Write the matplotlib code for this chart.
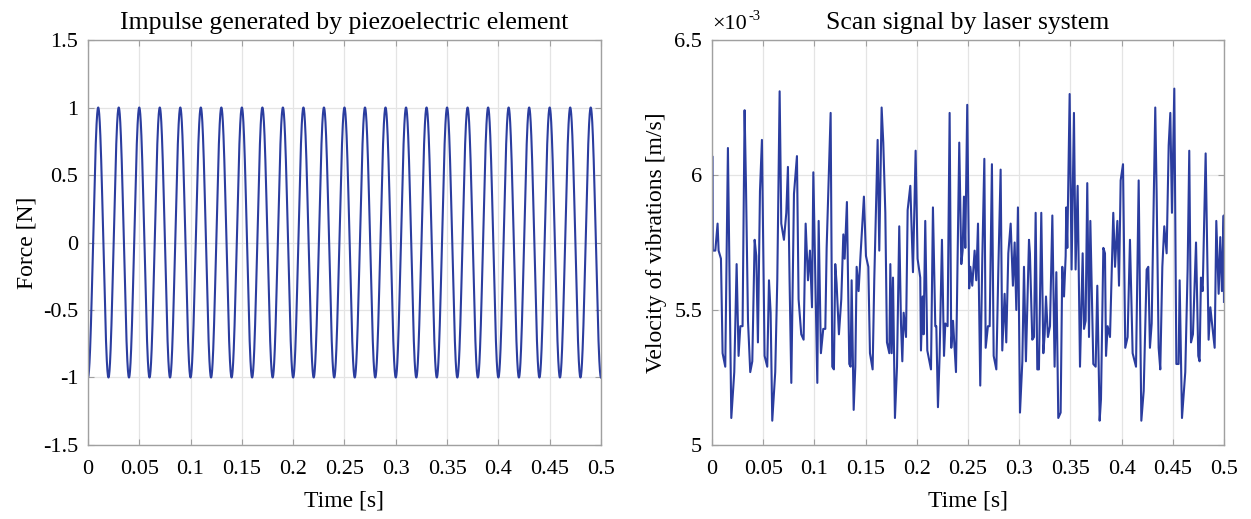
import numpy as np
import matplotlib
matplotlib.use('Agg')
import matplotlib.pyplot as plt

plt.rcParams['font.family'] = ['Liberation Serif', 'DejaVu Serif']
plt.rcParams['axes.unicode_minus'] = False

# left panel: excitation signal (50 Hz, amplitude 1 N, starts at -1)
force_freq = 50.0
force_amp = 1.0
force_t_end = 0.5

# right panel: scan signal (time in s, velocity in 1e-3 m/s), peaks/troughs
scan_t = [0.0, 0.0003, 0.0009, 0.0033, 0.0055, 0.0065, 0.0088, 0.0104, 0.0130, 0.0156,
          0.0176, 0.0189, 0.0218, 0.0241, 0.0260, 0.0277, 0.0299, 0.0319, 0.0332, 0.0352,
          0.0374, 0.0394, 0.0417, 0.0433, 0.0449, 0.0469, 0.0488, 0.0514, 0.0540, 0.0557,
          0.0573, 0.0589, 0.0618, 0.0638, 0.0661, 0.0677, 0.0703, 0.0726, 0.0742, 0.0758,
          0.0775, 0.0801, 0.0830, 0.0846, 0.0872, 0.0895, 0.0915, 0.0938, 0.0957, 0.0977,
          0.0990, 0.1029, 0.1042, 0.1064, 0.1087, 0.1107, 0.1120, 0.1136, 0.1159, 0.1175,
          0.1191, 0.1204, 0.1217, 0.1240, 0.1263, 0.1283, 0.1296, 0.1318, 0.1341, 0.1354,
          0.1364, 0.1384, 0.1400, 0.1413, 0.1432, 0.1452, 0.1484, 0.1504, 0.1527, 0.1543,
          0.1569, 0.1585, 0.1618, 0.1634, 0.1657, 0.1673, 0.1693, 0.1709, 0.1732, 0.1742,
          0.1755, 0.1768, 0.1787, 0.1807, 0.1829, 0.1846, 0.1859, 0.1872, 0.1895, 0.1911,
          0.1937, 0.1963, 0.1989, 0.2008, 0.2034, 0.2041, 0.2057, 0.2067, 0.2083, 0.2103,
          0.2139, 0.2158, 0.2181, 0.2191, 0.2207, 0.2223, 0.2246, 0.2266, 0.2279, 0.2301,
          0.2321, 0.2337, 0.2354, 0.2383, 0.2415, 0.2435, 0.2448, 0.2461, 0.2474, 0.2493,
          0.2512, 0.2523, 0.2542, 0.2565, 0.2581, 0.2598, 0.2620, 0.2640, 0.2660, 0.2673,
          0.2695, 0.2712, 0.2734, 0.2751, 0.2777, 0.2796, 0.2819, 0.2835, 0.2858, 0.2874,
          0.2894, 0.2917, 0.2939, 0.2956, 0.2972, 0.2988, 0.3008, 0.3031, 0.3047, 0.3066,
          0.3096, 0.3105, 0.3128, 0.3145, 0.3161, 0.3177, 0.3193, 0.3216, 0.3236, 0.3249,
          0.3262, 0.3281, 0.3301, 0.3324, 0.3346, 0.3363, 0.3382, 0.3405, 0.3421, 0.3438,
          0.3454, 0.3460, 0.3470, 0.3493, 0.3509, 0.3512, 0.3535, 0.3551, 0.3571, 0.3594,
          0.3620, 0.3633, 0.3649, 0.3665, 0.3682, 0.3695, 0.3724, 0.3747, 0.3763, 0.3786,
          0.3799, 0.3822, 0.3838, 0.3848, 0.3864, 0.3887, 0.3919, 0.3936, 0.3959, 0.3975,
          0.3991, 0.4014, 0.4036, 0.4059, 0.4082, 0.4108, 0.4141, 0.4167, 0.4193, 0.4216,
          0.4245, 0.4261, 0.4277, 0.4294, 0.4329, 0.4342, 0.4362, 0.4378, 0.4398, 0.4417,
          0.4440, 0.4460, 0.4476, 0.4492, 0.4515, 0.4535, 0.4557, 0.4567, 0.4590, 0.4622,
          0.4645, 0.4661, 0.4678, 0.4697, 0.4727, 0.4749, 0.4762, 0.4775, 0.4792, 0.4821,
          0.4850, 0.4867, 0.4886, 0.4909, 0.4925, 0.4948, 0.4964, 0.4980, 0.4997, 0.5000]
scan_v = [5.78, 6.07, 5.72, 5.72, 5.82, 5.72, 5.69, 5.34, 5.29, 6.10,
          5.49, 5.10, 5.27, 5.67, 5.33, 5.44, 5.44, 6.24, 5.97, 5.46,
          5.27, 5.31, 5.76, 5.70, 5.38, 5.94, 6.13, 5.33, 5.29, 5.61,
          5.49, 5.09, 5.27, 5.61, 6.31, 5.82, 5.76, 5.86, 6.03, 5.61,
          5.23, 5.93, 6.07, 5.54, 5.41, 5.39, 5.82, 5.61, 5.72, 5.51,
          6.01, 5.23, 5.83, 5.34, 5.43, 5.43, 5.73, 5.94, 6.23, 5.29,
          5.28, 5.67, 5.60, 5.41, 5.54, 5.78, 5.69, 5.90, 5.30, 5.29,
          5.61, 5.13, 5.29, 5.66, 5.57, 5.71, 5.92, 5.70, 5.66, 5.34,
          5.28, 5.61, 6.13, 5.72, 6.25, 6.12, 5.86, 5.38, 5.34, 5.67,
          5.34, 5.62, 5.10, 5.29, 5.81, 5.45, 5.31, 5.49, 5.40, 5.87,
          5.96, 5.64, 6.09, 5.69, 5.62, 5.35, 5.55, 5.41, 5.83, 5.35,
          5.28, 5.88, 5.44, 5.44, 5.14, 5.33, 5.76, 5.33, 5.45, 5.44,
          6.23, 5.36, 5.46, 5.27, 6.12, 5.67, 5.72, 5.92, 5.73, 6.26,
          5.58, 5.66, 5.59, 5.72, 5.61, 5.82, 5.22, 5.69, 6.06, 5.36,
          5.44, 5.44, 6.04, 5.33, 5.28, 5.64, 6.02, 5.35, 5.56, 5.38,
          5.71, 5.82, 5.59, 5.75, 5.50, 5.88, 5.12, 5.31, 5.66, 5.31,
          5.76, 5.71, 5.39, 5.40, 5.86, 5.28, 5.28, 5.86, 5.34, 5.41,
          5.55, 5.40, 5.44, 5.85, 5.29, 5.64, 5.10, 5.12, 5.66, 5.55,
          5.70, 5.88, 5.73, 6.30, 5.75, 5.65, 6.23, 5.65, 5.96, 5.29,
          5.71, 5.43, 5.46, 5.97, 5.40, 5.83, 5.30, 5.29, 5.59, 5.09,
          5.17, 5.73, 5.71, 5.33, 5.44, 5.40, 5.86, 5.66, 5.83, 5.59,
          5.98, 6.04, 5.36, 5.40, 5.76, 5.34, 5.29, 5.98, 5.09, 5.20,
          5.65, 5.66, 5.36, 5.45, 6.25, 5.94, 5.36, 5.28, 5.66, 5.81,
          5.71, 6.11, 6.23, 5.86, 6.32, 5.30, 5.30, 5.61, 5.10, 5.27,
          5.65, 6.09, 5.38, 5.41, 5.75, 5.33, 5.31, 5.62, 5.57, 6.08,
          5.39, 5.51, 5.44, 5.36, 5.83, 5.56, 5.77, 5.57, 5.85, 5.53]

x_ticks = [0, 0.05, 0.1, 0.15, 0.2, 0.25, 0.3, 0.35, 0.4, 0.45, 0.5]
x_ticklabels = ['0', '0.05', '0.1', '0.15', '0.2', '0.25', '0.3', '0.35', '0.4', '0.45', '0.5']
force_ticks = [-1.5, -1, -0.5, 0, 0.5, 1, 1.5]
force_ticklabels = ['-1.5', '-1', '-0.5', '0', '0.5', '1', '1.5']
scan_ticks = [5, 5.5, 6, 6.5]
scan_ticklabels = ['5', '5.5', '6', '6.5']

line_col = '#2b3d9f'
fs_tick = 16
fs_lab = 17
fs_title = 18.5

fig = plt.figure(figsize=(12.51, 5.19), dpi=100)
ax1 = fig.add_axes([0.0703, 0.1426, 0.4101, 0.7803])
ax2 = fig.add_axes([0.5691, 0.1426, 0.4093, 0.7803])


def style(ax):
    ax.grid(True, color='#e4e4e4', linewidth=0.9)
    ax.set_axisbelow(True)
    for s in ax.spines.values():
        s.set_color('#a0a0a0')
        s.set_linewidth(1.0)
    ax.tick_params(direction='in', length=4, width=0.8, color='#a0a0a0',
                   top=True, right=True, labelsize=fs_tick, labelcolor='black')
    ax.tick_params(axis='x', pad=11)
    ax.tick_params(axis='y', pad=7)
    ax.set_xlim(0, 0.5)
    ax.set_xticks(x_ticks)
    ax.set_xticklabels(x_ticklabels)
    ax.set_xlabel('Time [s]', fontsize=fs_lab, labelpad=8)


t = np.linspace(0, force_t_end, 5001)
ax1.plot(t, -force_amp * np.cos(2 * np.pi * force_freq * t), color=line_col, lw=1.5)
style(ax1)
ax1.set_ylim(-1.5, 1.5)
ax1.set_yticks(force_ticks)
ax1.set_yticklabels(force_ticklabels)
ax1.set_ylabel('Force [N]', fontsize=fs_lab, labelpad=4)
ax1.set_title('Impulse generated by piezoelectric element', fontsize=fs_title, pad=8)

ax2.plot(scan_t, scan_v, color=line_col, lw=1.5)
style(ax2)
ax2.set_ylim(5, 6.5)
ax2.set_yticks(scan_ticks)
ax2.set_yticklabels(scan_ticklabels)
ax2.set_ylabel('Velocity of vibrations [m/s]', fontsize=fs_lab, labelpad=5)
ax2.set_title('Scan signal by laser system', fontsize=fs_title, pad=8)
# exponent label in the MATLAB style above the y axis
ax2.annotate('\u00d710', xy=(0.0, 1.0), xycoords='axes fraction', xytext=(0, 8),
             textcoords='offset points', fontsize=16, ha='left', va='baseline')
ax2.annotate('-3', xy=(0.0, 1.0), xycoords='axes fraction', xytext=(26, 14.5),
             textcoords='offset points', fontsize=10.5, ha='left', va='baseline')

fig.savefig('out.png', dpi=100)
